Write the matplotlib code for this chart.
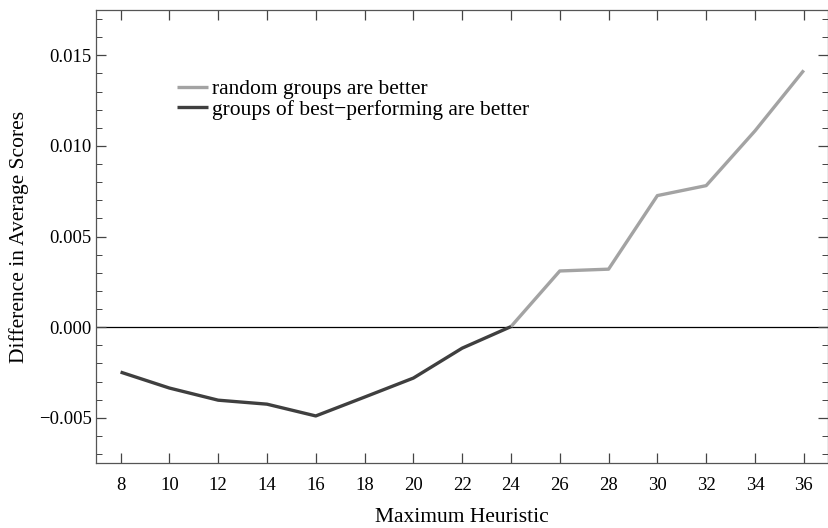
import numpy as np
import matplotlib
matplotlib.use('Agg')
import matplotlib.pyplot as plt
from matplotlib.ticker import MultipleLocator, FuncFormatter

plt.rcParams['font.family'] = ['Liberation Serif', 'DejaVu Serif']

# values
heuristic = [8, 10, 12, 14, 16, 18, 20, 22, 24, 26, 28, 30, 32, 34, 36]
diff = [-0.00248, -0.00336, -0.00403, -0.00425, -0.0049, -0.00386, -0.00281,
        -0.00116, 0.00003, 0.0031, 0.0032, 0.00726, 0.00781, 0.01083, 0.01417]
split_at = 24

heuristic = np.array(heuristic)
diff = np.array(diff)
best = heuristic <= split_at
rand = heuristic >= split_at

fig = plt.figure(figsize=(8.29, 5.28), dpi=100)
ax = fig.add_axes([0.116, 0.123, 0.883, 0.858])

ax.axhline(0, color='black', lw=0.9, zorder=1)
ax.plot(heuristic[rand], diff[rand], color='#a3a3a3', lw=2.4, solid_capstyle='butt',
        label='random groups are better', zorder=3)
ax.plot(heuristic[best], diff[best], color='#3f3f3f', lw=2.4, solid_capstyle='butt',
        label='groups of best\u2212performing are better', zorder=3)

ax.set_xlim(7, 37)
ax.set_ylim(-0.0075, 0.0175)
ax.xaxis.set_major_locator(MultipleLocator(2))
ax.yaxis.set_major_locator(MultipleLocator(0.005))
ax.yaxis.set_minor_locator(MultipleLocator(0.001))
ax.yaxis.set_major_formatter(FuncFormatter(lambda v, p: ('%.3f' % v).replace('-', '\u2212')))

ax.tick_params(which='both', direction='in', top=True, right=True, labelsize=13.5,
               color='#444444')
ax.tick_params(which='major', length=7, width=0.9)
ax.tick_params(which='minor', length=4, width=0.7)
ax.tick_params(axis='x', pad=10)
ax.tick_params(axis='y', pad=3)
for s in ax.spines.values():
    s.set_color('#555555')
    s.set_linewidth(0.9)

ax.set_xlabel('Maximum Heuristic', fontsize=15.5, labelpad=10)
ax.set_ylabel('Difference in Average Scores', fontsize=15.5, labelpad=7)

ax.legend(loc='upper left', bbox_to_anchor=(0.0985, 0.866), frameon=False, fontsize=15.5,
          handlelength=1.45, handletextpad=0.18, labelspacing=0.02, borderaxespad=0)

fig.savefig('out.png', dpi=100)
